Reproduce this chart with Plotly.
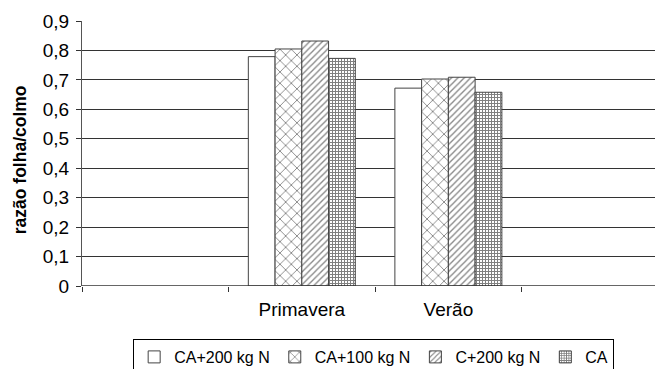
import plotly.graph_objects as go

slots = ["", "Primavera", "Verão", ""]
categories = ["Primavera", "Verão"]
series_names = ["CA+200 kg N", "CA+100 kg N", "C+200 kg N", "CA"]
values = {
    "CA+200 kg N": [0.779, 0.672],
    "CA+100 kg N": [0.805, 0.703],
    "C+200 kg N": [0.832, 0.709],
    "CA": [0.773, 0.658],
}
y_title = "razão folha/colmo"
patterns = {
    "CA+200 kg N": dict(shape=""),
    "CA+100 kg N": dict(shape="x", size=8, solidity=0.22, fgcolor="#111111"),
    "C+200 kg N": dict(shape="/", size=4.5, solidity=0.3, fgcolor="#111111"),
    "CA": dict(shape="+", size=3, solidity=0.55, fgcolor="#000000"),
}

xpos = [slots.index(c) for c in categories]
font = "Arial, Liberation Sans, sans-serif"

fig = go.Figure()
for name in series_names:
    fig.add_trace(go.Bar(
        x=xpos, y=values[name], name=name,
        marker=dict(color="white", line=dict(color="#444444", width=1),
                    pattern=patterns[name]),
    ))

fig.update_layout(
    width=655, height=369,
    margin=dict(l=82, r=0, t=21, b=83, autoexpand=False),
    plot_bgcolor="white", paper_bgcolor="white",
    barmode="group", bargap=0.27, bargroupgap=0,
    separators=",.",
    font=dict(family=font, size=19, color="black"),
    showlegend=True,
    legend=dict(orientation="h", x=0.509, xanchor="center", y=-0.2, yanchor="top",
                bordercolor="black", borderwidth=1, itemwidth=30,
                font=dict(size=16), traceorder="normal"),
    xaxis=dict(
        range=[-0.5, 3.41], tickmode="array", tickvals=[1, 2],
        ticktext=["Primavera", "Verão"], ticks="", showgrid=False, zeroline=False,
        showline=False, ticklabelstandoff=10,
        minor=dict(tickmode="array", tickvals=[-0.5, 0.5, 1.5, 2.5, 3.5],
                   ticks="outside", ticklen=5, tickcolor="#333333", showgrid=False),
    ),
    yaxis=dict(
        range=[0, 0.9], dtick=0.1, ticks="outside", ticklen=5, tickcolor="#333333",
        showgrid=True, gridcolor="#333333", gridwidth=1.3, ticklabelstandoff=3,
        showline=True, linecolor="#555555", linewidth=1.3, zeroline=False,
    ),
    annotations=[dict(text="<b>" + y_title + "</b>", textangle=-90, showarrow=False,
                      xref="paper", yref="paper", x=-0.108, y=0.475,
                      xanchor="center", yanchor="middle", font=dict(size=17.5))],
)
fig.add_shape(type="line", xref="paper", yref="y", x0=0, x1=1, y0=0, y1=0,
              line=dict(color="#333333", width=1.3))
fig.write_html("out.html")
